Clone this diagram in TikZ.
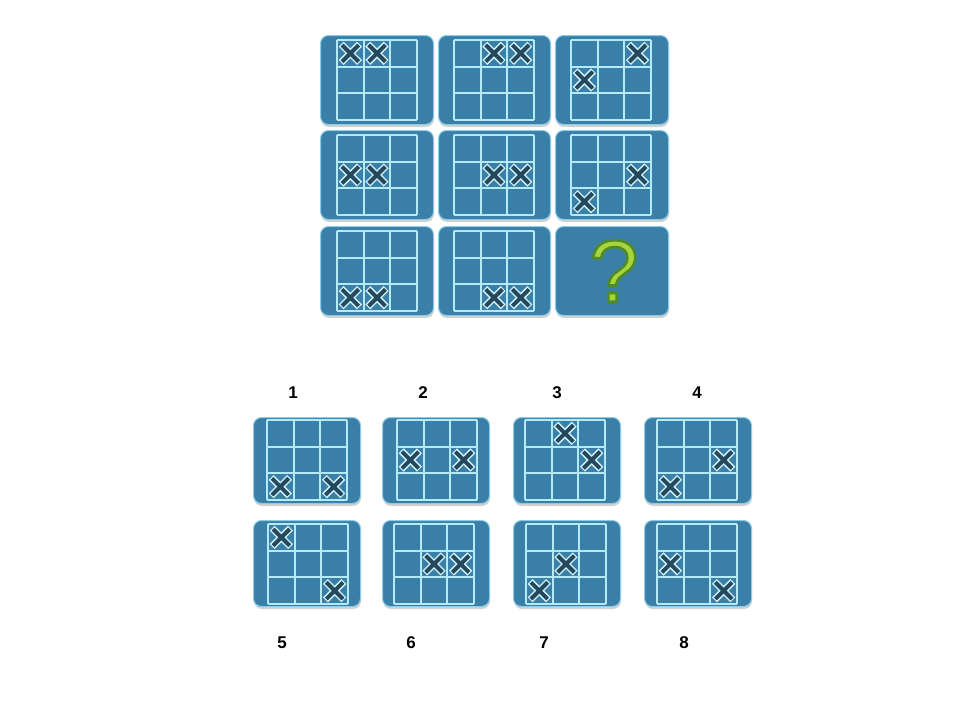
\documentclass[tikz,border=0pt]{standalone}
\usepackage{fontspec}
\setmainfont{Liberation Sans}
\definecolor{tileblue}{HTML}{3A7FA7}
\definecolor{tileedge}{HTML}{8ACDE8}
\definecolor{gridline}{HTML}{B4EAF6}
\definecolor{xdark}{HTML}{24485C}
\definecolor{xlight}{HTML}{D2F0F8}
\definecolor{qgreen}{HTML}{A8D43C}
\tikzset{
  tilebox/.style={draw=tileedge, line width=1pt, fill=tileblue, rounded corners=8pt, inner sep=0pt, anchor=north west},
  shadowbox/.style={fill=black!40, rounded corners=8pt, opacity=0.45},
  gridstyle/.style={draw=gridline, line width=1.8pt},
  xouter/.style={draw=xlight, line width=7pt, shorten <=-1.2pt, shorten >=-1.2pt},
  xinner/.style={draw=xdark, line width=4pt},
  numlabel/.style={font=\fontsize{17}{17}\selectfont\bfseries, text=black, inner sep=0pt},
  qmark/.style={font=\fontsize{88}{88}\selectfont, text=qgreen, inner sep=0pt},
}
% #1 name, #2 x, #3 y, #4 w, #5 h, #6 grid x, #7 grid y, #8 cells
\newcommand\puzzletile[8]{%
  \fill[shadowbox] (#2+1,#3+3) rectangle ++(#4,#5);
  \node[tilebox, minimum width=#4pt, minimum height=#5pt] (#1) at (#2,#3) {};
  \begin{scope}[shift={(#6,#7)}]
    \foreach \r/\c in {#8} {
      \pgfmathsetmacro\xa{(\c-1)*80/3+5}
      \pgfmathsetmacro\ya{(\r-1)*80/3+5}
      \pgfmathsetmacro\xb{\c*80/3-5}
      \pgfmathsetmacro\yb{\r*80/3-5}
      \draw[xouter] (\xa,\ya) -- (\xb,\yb);
      \draw[xouter] (\xb,\ya) -- (\xa,\yb);
      \draw[xinner] (\xa,\ya) -- (\xb,\yb);
      \draw[xinner] (\xb,\ya) -- (\xa,\yb);
    }
    \foreach \i in {0,1,2,3} {
      \draw[gridstyle] (\i*80/3,0) -- (\i*80/3,80);
      \draw[gridstyle] (0,\i*80/3) -- (80,\i*80/3);
    }
  \end{scope}
}
\newcommand\outlinedq{\special{pdf:code 2 Tr 2.6 w 0.306 0.541 0.165 RG}?\special{pdf:code 0 Tr}}
\begin{document}
\begin{tikzpicture}[x=1pt,y=-1pt]
\useasboundingbox[fill=white] (0,0) rectangle (960,720);
% matrix
\puzzletile{m1}{320}{35}{113}{89}{337}{40}{1/1,1/2}
\puzzletile{m2}{438}{35}{112}{89}{454}{40}{1/2,1/3}
\puzzletile{m3}{555}{35}{113}{89}{571}{40}{1/3,2/1}
\puzzletile{m4}{320}{130}{113}{89}{337}{135}{2/1,2/2}
\puzzletile{m5}{438}{130}{112}{89}{454}{135}{2/2,2/3}
\puzzletile{m6}{555}{130}{113}{89}{571}{135}{2/3,3/1}
\puzzletile{m7}{320}{226}{113}{89}{337}{231}{3/1,3/2}
\puzzletile{m8}{438}{226}{112}{89}{454}{231}{3/2,3/3}
\fill[shadowbox] (556,229) rectangle ++(113,89);
\node[tilebox, minimum width=113pt, minimum height=89pt] (m9) at (555,226) {};
% answers
\puzzletile{a1}{253}{417}{107}{86}{267}{420}{3/1,3/3}
\puzzletile{a2}{382}{417}{107}{86}{397}{420}{2/1,2/3}
\puzzletile{a3}{513}{417}{107}{86}{525}{420}{1/2,2/3}
\puzzletile{a4}{644}{417}{107}{86}{657}{420}{2/3,3/1}
\puzzletile{a5}{253}{520}{107}{86}{268}{524}{1/1,3/3}
\puzzletile{a6}{382}{520}{107}{86}{394}{524}{2/2,2/3}
\puzzletile{a7}{513}{520}{107}{86}{526}{524}{2/2,3/1}
\puzzletile{a8}{644}{520}{107}{86}{657}{524}{2/1,3/3}
% labels
\node[numlabel] (l1) at (293,393) {1};
\node[numlabel] (l2) at (423,393) {2};
\node[numlabel] (l3) at (557,393) {3};
\node[numlabel] (l4) at (697,393) {4};
\node[numlabel] (l5) at (282,643) {5};
\node[numlabel] (l6) at (411,643) {6};
\node[numlabel] (l7) at (544,643) {7};
\node[numlabel] (l8) at (684,643) {8};
% question mark (last)
\node[qmark] (q) at (614,271) {\outlinedq};
\end{tikzpicture}
\end{document}
